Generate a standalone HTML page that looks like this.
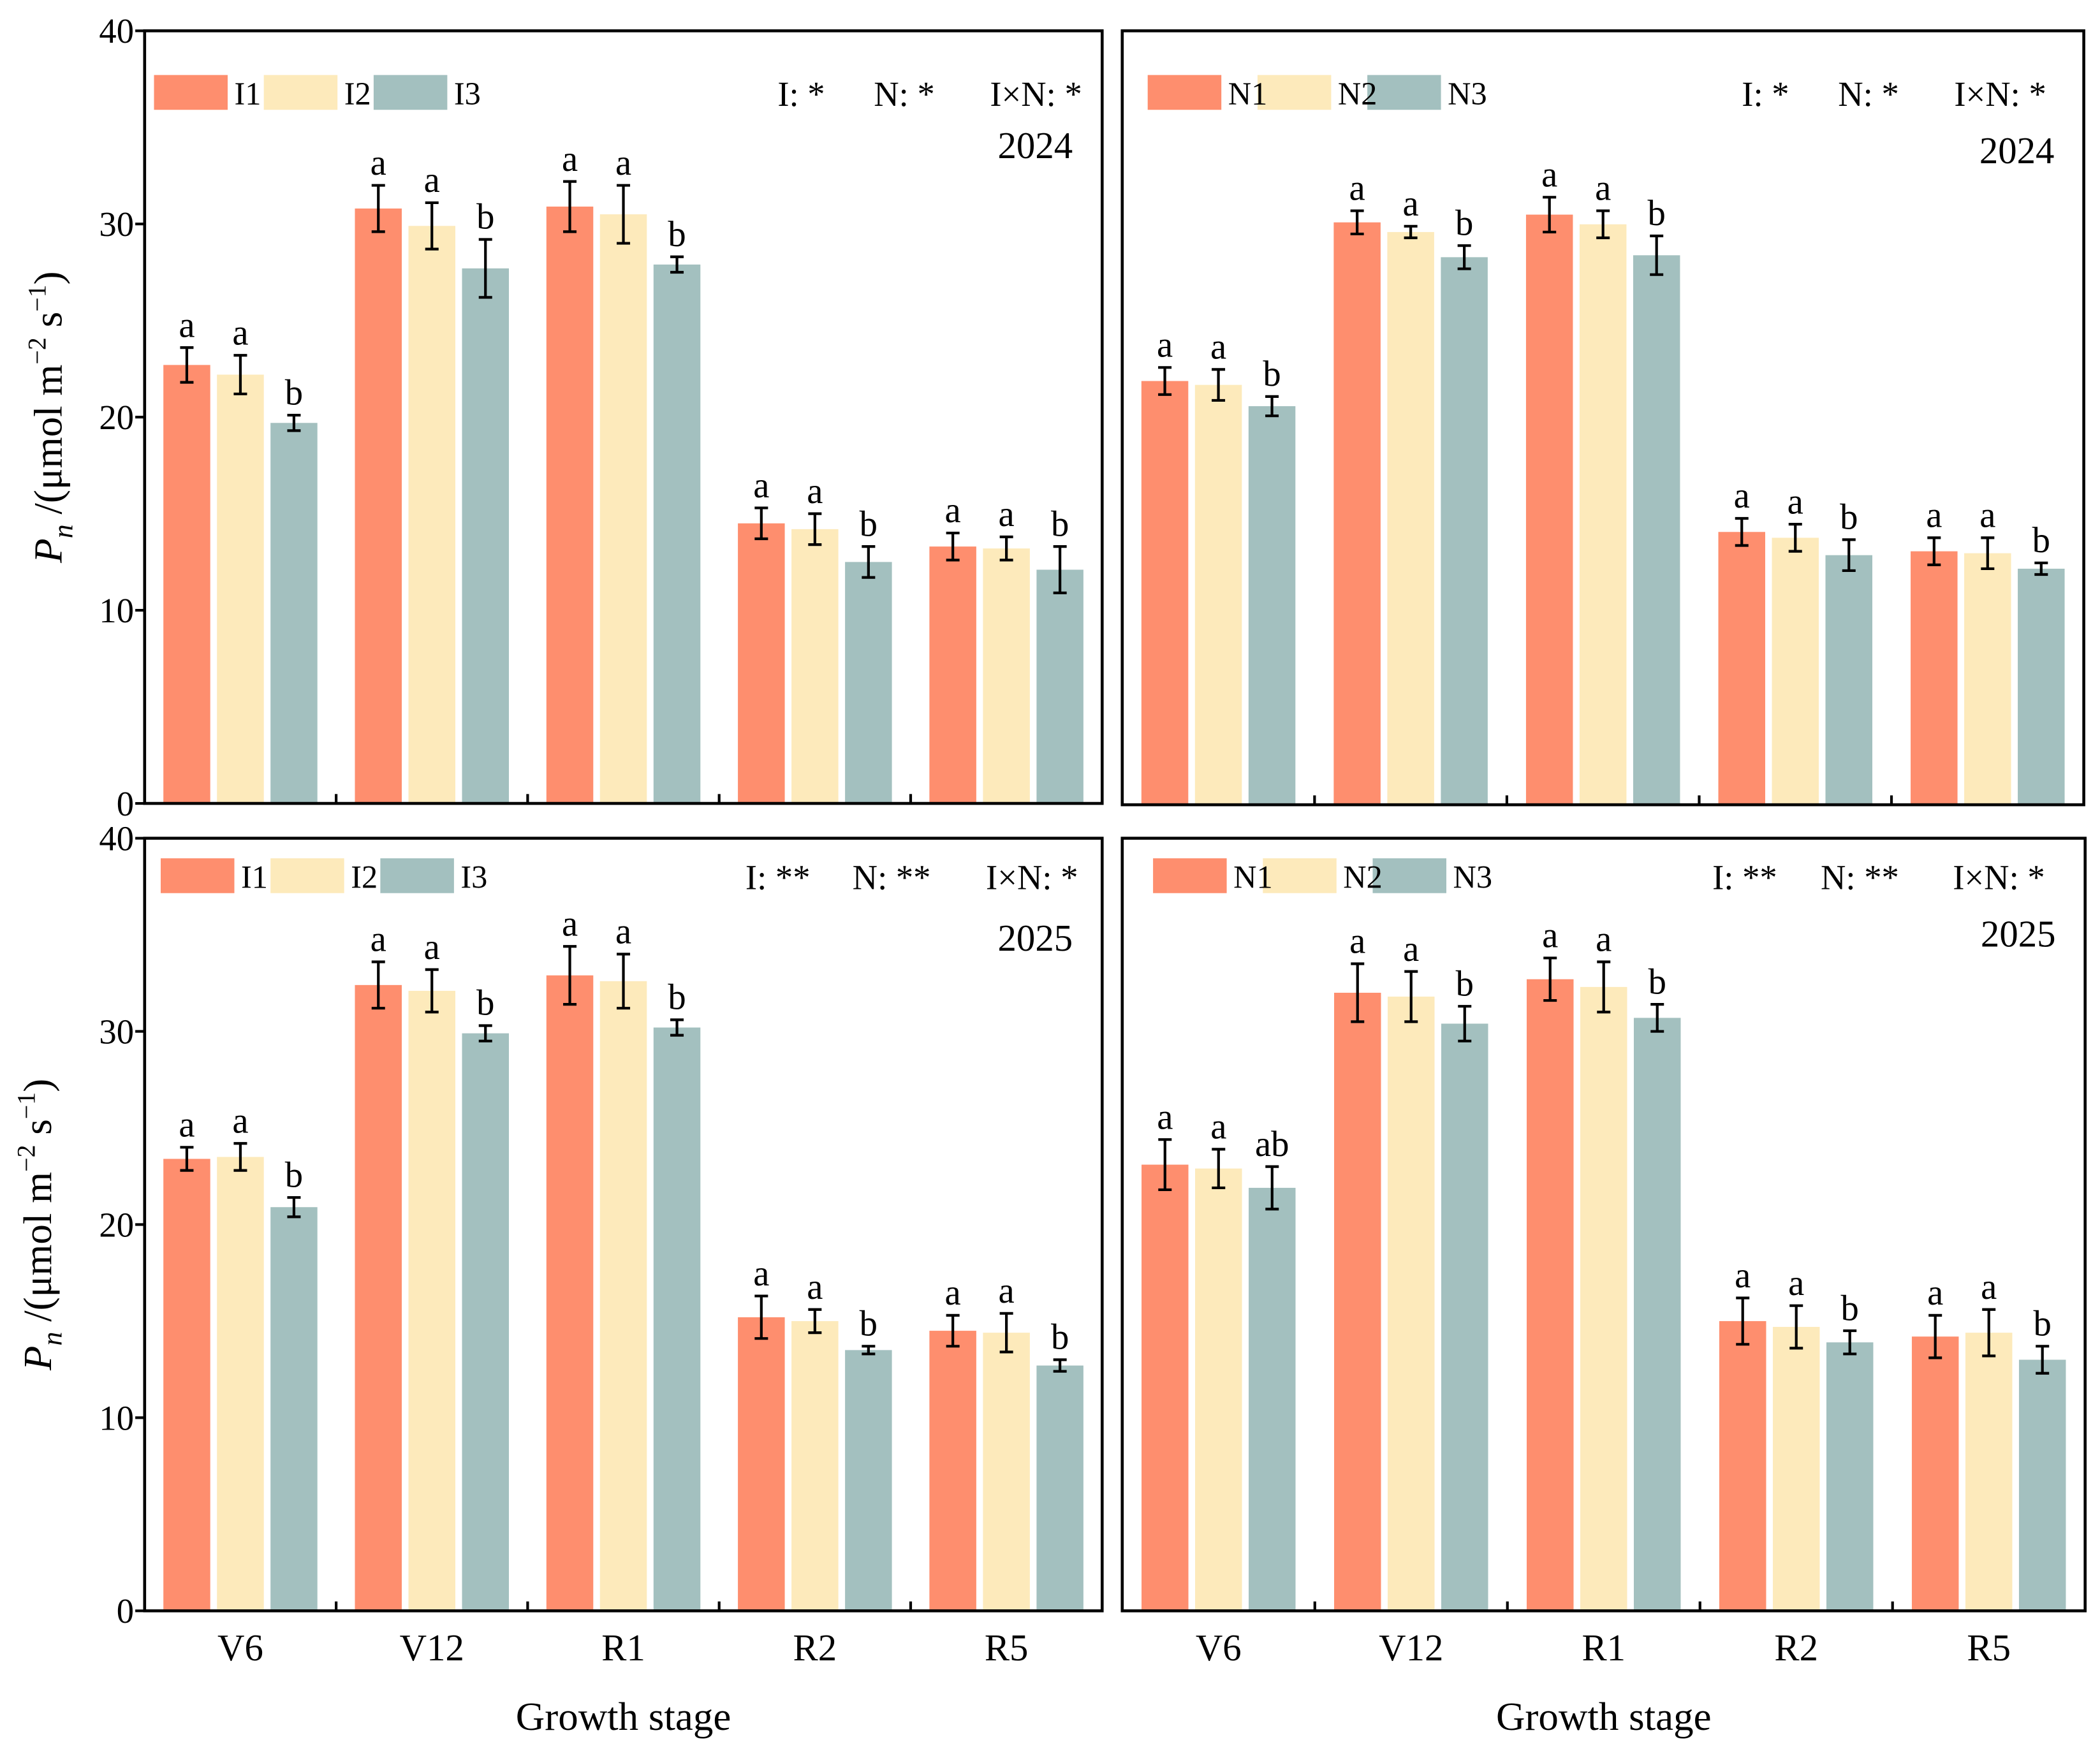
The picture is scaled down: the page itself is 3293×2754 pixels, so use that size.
<!DOCTYPE html>
<html><head><meta charset="utf-8"><style>
html,body{margin:0;padding:0;background:#fff;}
svg{display:block;font-family:"Liberation Serif",serif;}
</style></head><body>
<svg id="fig" width="3293" height="2754" viewBox="0 0 1568.1 1311.4" xmlns="http://www.w3.org/2000/svg"></svg>
<script>
const stages = ["V6","V12","R1","R2","R5"];
const yTicks = [0,10,20,30,40];
// panel A (2024, irrigation)
const a_s1 = [22.7,30.8,30.9,14.5,13.3];
const a_s2 = [22.2,29.9,30.5,14.2,13.2];
const a_s3 = [19.7,27.7,27.9,12.5,12.1];
const a_e1 = [0.9,1.2,1.3,0.8,0.7];
const a_e2 = [1.0,1.2,1.5,0.8,0.6];
const a_e3 = [0.4,1.5,0.4,0.8,1.2];
// panel B (2024, nitrogen)
const b_s1 = [21.9,30.1,30.5,14.1,13.1];
const b_s2 = [21.7,29.6,30.0,13.8,13.0];
const b_s3 = [20.6,28.3,28.4,12.9,12.2];
const b_e1 = [0.7,0.6,0.9,0.7,0.7];
const b_e2 = [0.8,0.3,0.7,0.7,0.8];
const b_e3 = [0.5,0.6,1.0,0.8,0.3];
// panel C (2025, irrigation)
const c_s1 = [23.4,32.4,32.9,15.2,14.5];
const c_s2 = [23.5,32.1,32.6,15.0,14.4];
const c_s3 = [20.9,29.9,30.2,13.5,12.7];
const c_e1 = [0.6,1.2,1.5,1.1,0.8];
const c_e2 = [0.7,1.1,1.4,0.6,1.0];
const c_e3 = [0.5,0.4,0.4,0.2,0.3];
// panel D (2025, nitrogen)
const d_s1 = [23.1,32.0,32.7,15.0,14.2];
const d_s2 = [22.9,31.8,32.3,14.7,14.4];
const d_s3 = [21.9,30.4,30.7,13.9,13.0];
const d_e1 = [1.3,1.5,1.1,1.2,1.1];
const d_e2 = [1.0,1.3,1.3,1.1,1.2];
const d_e3 = [1.1,0.9,0.7,0.6,0.7];
const lettersStd = [["a","a","b"],["a","a","b"],["a","a","b"],["a","a","b"],["a","a","b"]];
const lettersD = [["a","a","ab"],["a","a","b"],["a","a","b"],["a","a","b"],["a","a","b"]];
const legI = ["I1","I2","I3"];
const legN = ["N1","N2","N3"];
const statsA = ["I: *","N: *","I×N: *"];
const statsC = ["I: **","N: **","I×N: *"];
const colors = ["#FE8E6E","#FDEABB","#A3C0BF"];

const svg = document.getElementById('fig');
const NS = "http://www.w3.org/2000/svg";
function mk(tag, attrs, parent){const e=document.createElementNS(NS,tag);for(const k in attrs)e.setAttribute(k,attrs[k]);(parent||svg).appendChild(e);return e;}

function panel(cfg){
  const g = mk('g',{});
  
  
  const x0=cfg.x0,x1=cfg.x1,yTop=cfg.yTop,yBot=cfg.yBot;
  const ys = v => yBot - (v/40)*(yBot-yTop);
  const gw = (x1-x0)/5;
  const bw = 35, gap = 5;
  const series=[cfg.s1,cfg.s2,cfg.s3], errs=[cfg.e1,cfg.e2,cfg.e3];
  for(let i=0;i<5;i++){
    const cx = x0 + gw*(i+0.5);
    for(let k=0;k<3;k++){
      const bx = cx + (k-1)*(bw+gap) - bw/2;
      const v = series[k][i], e = errs[k][i];
      const r = mk('rect',{x:bx,y:ys(v),width:bw,height:ys(0)-ys(v),fill:colors[k]},g);
      
      
      const bc = bx+bw/2;
      const eb = mk('path',{d:`M${bc-5},${ys(v+e)}H${bc+5}M${bc},${ys(v+e)}V${ys(v-e)}M${bc-5},${ys(v-e)}H${bc+5}`,stroke:'#000','stroke-width':2,fill:'none'},g);
      
      
      const t = mk('text',{x:bc,y:ys(v+e)-8,'font-size':27,'text-anchor':'middle'},g);
      t.textContent = cfg.letters[i][k];
      
      
    }
    if(i>0){
      const tx = x0+gw*i;
      mk('line',{x1:tx,x2:tx,y1:yBot,y2:yBot-7,stroke:'#000','stroke-width':2},g);
    }
    if(cfg.xlabels){
      const t = mk('text',{x:cx,y:yBot+37,'font-size':28,'text-anchor':'middle'},g);
      t.textContent = stages[i];
      
      
    }
  }
  const fr = mk('rect',{x:x0,y:yTop,width:x1-x0,height:yBot-yTop,fill:'none',stroke:'#000','stroke-width':2.2},g);
  
  
  if(cfg.yaxis){
    yTicks.forEach(v=>{
      mk('line',{x1:x0,x2:x0-7,y1:ys(v),y2:ys(v),stroke:'#000','stroke-width':2},g);
      const t = mk('text',{x:x0-8,y:ys(v)+9,'font-size':26,'text-anchor':'end'},g);
      t.textContent = v;
      
      
    });
    const ty = mk('text',{transform:`translate(${cfg.ytx},${(yTop+yBot)/2}) rotate(-90)`,'font-size':30,'text-anchor':'middle'},g);
    ty.innerHTML = '<tspan font-style="italic">P</tspan><tspan font-style="italic" font-size="21" dy="8">n</tspan><tspan dy="-8"> /(μmol m</tspan><tspan font-size="19" dy="-12">−2</tspan><tspan dy="12"> s</tspan><tspan font-size="19" dy="-12">−1</tspan><tspan dy="12">)</tspan>';
    
    
  }
  if(cfg.xtitle){
    const t = mk('text',{x:(x0+x1)/2,y:yBot+89,'font-size':30,'text-anchor':'middle'},g);
    t.textContent = 'Growth stage';
    
    
  }
  // legend
  const lg = mk('g',{},g);
  
  
  for(let k=0;k<3;k++){
    mk('rect',{x:cfg.legX + k*82,y:cfg.legY,width:55,height:26,fill:colors[k]},lg);
  }
  for(let k=0;k<3;k++){
    const t = mk('text',{x:cfg.legX + k*82+60,y:cfg.legY+22,'font-size':24},lg);
    t.textContent = cfg.leg[k];
    
    
  }
  const sx = cfg.statsX;
  cfg.stats.forEach((s,j)=>{
    const t = mk('text',{x:sx[j],y:cfg.legY+23,'font-size':26,'text-anchor':'end'},g);
    t.textContent = s;
    
    
  });
  const yr = mk('text',{x:x1-22,y:cfg.yearY,'font-size':28,'text-anchor':'end'},g);
  yr.textContent = cfg.year;
  
  
}

panel({name:'panel-2024-irrigation',x0:108,x1:823,yTop:23,yBot:600,s1:a_s1,s2:a_s2,s3:a_s3,e1:a_e1,e2:a_e2,e3:a_e3,letters:lettersStd,leg:legI,legX:115,legY:56,stats:statsA,statsX:[616,698,808],year:'2024',yearY:118,yaxis:true,ytx:46,xlabels:false,xtitle:false});
panel({name:'panel-2024-nitrogen',x0:838,x1:1556,yTop:23,yBot:601,s1:b_s1,s2:b_s2,s3:b_s3,e1:b_e1,e2:b_e2,e3:b_e3,letters:lettersStd,leg:legN,legX:857,legY:56,stats:statsA,statsX:[1336,1418,1528],year:'2024',yearY:122,yaxis:false,xlabels:false,xtitle:false});
panel({name:'panel-2025-irrigation',x0:108,x1:823,yTop:626,yBot:1203,s1:c_s1,s2:c_s2,s3:c_s3,e1:c_e1,e2:c_e2,e3:c_e3,letters:lettersStd,leg:legI,legX:120,legY:641,stats:statsC,statsX:[605,695,805],year:'2025',yearY:710,yaxis:true,ytx:38,xlabels:true,xtitle:true});
panel({name:'panel-2025-nitrogen',x0:838,x1:1557,yTop:626,yBot:1203,s1:d_s1,s2:d_s2,s3:d_s3,e1:d_e1,e2:d_e2,e3:d_e3,letters:lettersD,leg:legN,legX:861,legY:641,stats:statsC,statsX:[1327,1418,1527],year:'2025',yearY:707,yaxis:false,xlabels:true,xtitle:true});
</script>
</body></html>
